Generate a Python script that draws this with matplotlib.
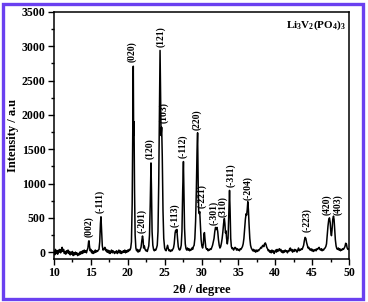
import matplotlib
matplotlib.use("Agg")
import matplotlib.pyplot as plt
from matplotlib.patches import Rectangle

# ---- data ----
two_theta = [
    10.0, 10.1, 10.2, 10.3, 10.4, 10.5, 10.6, 10.7, 10.8, 10.9, 11.0, 11.1, 11.2, 11.3, 11.4,
    11.5, 11.6, 11.7, 11.8, 11.9, 12.0, 12.1, 12.2, 12.3, 12.4, 12.5, 12.6, 12.7, 12.8, 12.9,
    13.0, 13.1, 13.2, 13.3, 13.4, 13.5, 13.6, 13.7, 13.8, 13.9, 14.0, 14.1, 14.2, 14.3, 14.4,
    14.5, 14.6, 14.7, 14.75, 14.8, 14.9, 15.0, 15.1, 15.2, 15.3, 15.4, 15.5, 15.6, 15.7, 15.8,
    15.9, 16.0, 16.1, 16.2, 16.3, 16.37, 16.45, 16.55, 16.65, 16.8, 16.9, 17.0, 17.1, 17.2, 17.3,
    17.4, 17.5, 17.6, 17.7, 17.8, 17.9, 18.0, 18.1, 18.2, 18.3, 18.4, 18.5, 18.6, 18.7, 18.8,
    18.9, 19.0, 19.1, 19.2, 19.3, 19.4, 19.5, 19.6, 19.7, 19.8, 19.9, 20.0, 20.1, 20.2, 20.3,
    20.4, 20.5, 20.6, 20.68, 20.75, 20.8, 20.85, 20.92, 21.0, 21.1, 21.2, 21.3, 21.4, 21.5, 21.6,
    21.7, 21.8, 21.9, 22.0, 22.08, 22.15, 22.25, 22.35, 22.45, 22.55, 22.65, 22.75, 22.85, 22.95,
    23.05, 23.15, 23.22, 23.3, 23.4, 23.5, 23.6, 23.7, 23.8, 23.9, 24.0, 24.1, 24.2, 24.3, 24.38,
    24.45, 24.52, 24.6, 24.68, 24.78, 24.88, 25.0, 25.1, 25.2, 25.3, 25.4, 25.5, 25.6, 25.7, 25.8,
    25.9, 26.0, 26.1, 26.2, 26.3, 26.42, 26.5, 26.58, 26.66, 26.75, 26.85, 26.95, 27.05, 27.15,
    27.25, 27.35, 27.45, 27.55, 27.62, 27.7, 27.8, 27.9, 28.0, 28.1, 28.2, 28.3, 28.4, 28.5, 28.6,
    28.7, 28.8, 28.9, 29.0, 29.1, 29.2, 29.3, 29.4, 29.47, 29.55, 29.62, 29.7, 29.76, 29.85, 29.95,
    30.05, 30.15, 30.25, 30.33, 30.4, 30.48, 30.58, 30.7, 30.8, 30.9, 31.0, 31.1, 31.2, 31.3, 31.4,
    31.5, 31.6, 31.7, 31.8, 31.9, 32.0, 32.1, 32.2, 32.3, 32.4, 32.5, 32.6, 32.7, 32.8, 32.9, 33.0,
    33.1, 33.17, 33.25, 33.32, 33.4, 33.5, 33.6, 33.7, 33.8, 33.88, 33.96, 34.05, 34.15, 34.25,
    34.35, 34.45, 34.55, 34.65, 34.75, 34.85, 34.95, 35.05, 35.15, 35.25, 35.35, 35.45, 35.55,
    35.65, 35.75, 35.85, 35.95, 36.05, 36.12, 36.2, 36.28, 36.36, 36.45, 36.55, 36.65, 36.75,
    36.85, 36.95, 37.05, 37.15, 37.25, 37.35, 37.45, 37.55, 37.65, 37.75, 37.85, 37.95, 38.05,
    38.15, 38.25, 38.35, 38.45, 38.55, 38.65, 38.75, 38.85, 38.95, 39.05, 39.15, 39.25, 39.35,
    39.45, 39.55, 39.65, 39.75, 39.85, 39.95, 40.05, 40.15, 40.25, 40.35, 40.45, 40.55, 40.65,
    40.75, 40.85, 40.95, 41.05, 41.15, 41.25, 41.35, 41.45, 41.55, 41.65, 41.75, 41.85, 41.95,
    42.05, 42.15, 42.25, 42.35, 42.45, 42.55, 42.65, 42.75, 42.85, 42.95, 43.05, 43.15, 43.25,
    43.35, 43.45, 43.55, 43.65, 43.75, 43.85, 43.95, 44.05, 44.15, 44.25, 44.35, 44.45, 44.55,
    44.65, 44.75, 44.85, 44.95, 45.05, 45.15, 45.25, 45.35, 45.45, 45.55, 45.65, 45.75, 45.85,
    45.95, 46.05, 46.15, 46.25, 46.35, 46.45, 46.55, 46.65, 46.75, 46.85, 46.95, 47.05, 47.15,
    47.25, 47.35, 47.45, 47.55, 47.62, 47.7, 47.8, 47.9, 47.98, 48.05, 48.15, 48.25, 48.35,
    48.45, 48.55, 48.65, 48.75, 48.85, 48.95, 49.05, 49.15, 49.25, 49.35, 49.45, 49.55, 49.65,
    49.75, 49.85, 49.95, 50.0,
]
intensity = [
    10, -40, 40, -20, 20, -30, 30, 0, 40, -10, 20, 70, 10, 40, -20,
    10, -30, 20, -10, 30, -20, 10, -40, 0, -30, 10, -50, -10, -40, 0,
    -30, -10, -50, -20, -40, 0, -30, 10, -20, 20, -10, 30, 0, 20, -10,
    30, 60, 160, 165, 100, 20, 40, -10, 20, -20, 10, -10, 30, 0, 20,
    10, 30, 40, 150, 420, 515, 330, 90, 30, 50, 70, 20, 40, 0, 30,
    -10, 20, -20, 10, 30, -10, 20, 0, -20, 10, -10, 20, -20, 0, 30,
    -10, 20, -20, 10, -10, 20, 0, 30, -10, 20, 0, 30, 10, 40, 30,
    60, 150, 700, 1800, 2710, 1700, 1900, 900, 250, 60, 20, 40, 0, 30, 10,
    40, 70, 160, 235, 180, 60, 90, 40, 20, 30, 10, 50, 90, 250,
    700, 1300, 900, 300, 100, 40, 20, 40, 30, 60, 100, 300, 1000, 2000, 2940,
    2300, 1700, 1820, 1400, 600, 200, 60, 30, 20, 60, 100, 50, 20, 30, 10,
    30, 20, 40, 60, 120, 280, 320, 290, 330, 200, 80, 40, 30, 50,
    100, 300, 900, 1320, 900, 350, 120, 50, 30, 60, 30, 50, 20, 40, 30,
    60, 40, 80, 100, 200, 450, 900, 1500, 1740, 1000, 600, 560, 590, 380, 180,
    90, 60, 120, 260, 285, 180, 70, 40, 50, 20, 40, 30, 50, 40, 70,
    100, 150, 200, 300, 360, 330, 360, 300, 180, 100, 60, 80, 130, 200, 300, 420,
    490, 420, 280, 310, 200, 120, 200, 550, 900, 600, 200, 80, 50, 60,
    30, 50, 70, 60, 30, 50, 30, 40, 20, 50, 40, 60, 80,
    120, 200, 350, 480, 560, 540, 620, 735, 620, 400, 200, 100, 60,
    40, 20, 40, 10, 30, 0, 30, 10, 30, 20, 40, 50, 70,
    60, 90, 100, 80, 120, 135, 110, 70, 50, 20, 30, 0, 20,
    -10, 30, 0, 20, -20, 10, 30, 0, 40, 10, 30, 50, 20,
    40, 0, 20, -10, 20, 0, 30, 10, 20, -10, 20, 10, 50,
    60, 20, 40, 0, 30, 10, 40, 20, 30, 0, 30, 60, 20,
    40, 30, 50, 40, 70, 100, 170, 215, 200, 140, 100, 60, 70,
    40, 30, 50, 20, 40, 10, 30, 20, 40, 20, 50, 40, 60,
    70, 40, 30, 50, 20, 40, 30, 50, 60, 80, 120, 250, 380,
    470, 500, 430, 280, 240, 320, 480, 525, 470, 350, 180, 90, 50,
    40, 60, 30, 50, 20, 40, 30, 50, 40, 60, 80, 130, 120,
    60, 40, 50, 40,
]
peak_labels = ["(002)", "(-111)", "(020)", "(-201)", "(120)", "(121)", "(103)", "(-113)",
               "(-112)", "(220)", "(-221)", "(-301)", "(310)", "(-311)", "(-204)",
               "(-223)", "(420)", "(403)"]
label_x = [14.67, 16.25, 20.6, 21.9, 23.0, 24.45, 24.95, 26.45, 27.5, 29.39, 30.07,
           31.65, 32.85, 33.95, 36.27, 44.3, 47.05, 48.55]
label_y = [220, 570, 2770, 280, 1360, 2990, 1880, 365, 1370, 1780, 640, 395, 510, 950,
           760, 290, 540, 540]
x_ticks = [10, 15, 20, 25, 30, 35, 40, 45, 50]
y_ticks = [0, 500, 1000, 1500, 2000, 2500, 3000, 3500]

plt.rcParams['font.family'] = ['Liberation Serif', 'DejaVu Serif']
plt.rcParams['font.weight'] = 'bold'
plt.rcParams['mathtext.default'] = 'regular'

fig = plt.figure(figsize=(3.68, 3.02), dpi=100)
ax = fig.add_axes([54 / 368, 1 - 259 / 302, 295 / 368, 247 / 302])

ax.plot(two_theta, intensity, color='black', lw=1.1)
ax.set_xlim(10, 50)
ax.set_ylim(-100, 3500)
ax.set_xticks(x_ticks)
ax.set_yticks(y_ticks)
ax.set_xticks([t + 2.5 for t in x_ticks[:-1]], minor=True)
ax.set_yticks([t + 250 for t in y_ticks[:-1]], minor=True)
ax.tick_params(which='major', direction='out', length=4, width=1, labelsize=8.5, pad=2)
ax.tick_params(which='minor', direction='out', length=2, width=1)
for lab in ax.get_xticklabels() + ax.get_yticklabels():
    lab.set_fontweight('bold')
for s in ax.spines.values():
    s.set_linewidth(1.1)

ax.set_xlabel('2θ / degree', fontsize=9, fontweight='bold', labelpad=3)
ax.set_ylabel('Intensity / a.u', fontsize=9, fontweight='bold', labelpad=2)

for t, xx, yy in zip(peak_labels, label_x, label_y):
    ax.text(xx, yy, t, rotation=90, ha='center', va='bottom', fontsize=7,
            fontweight='bold')

ax.text(0.99, 0.945, r'Li$_3$V$_2$(PO$_4$)$_3$', transform=ax.transAxes,
        ha='right', va='center', fontsize=8, fontweight='bold')

fig.patches.append(Rectangle((2.5 / 368, 3.5 / 302), 360 / 368, 295 / 302,
                             transform=fig.transFigure, fill=False,
                             edgecolor='#6a40f0', lw=2.4))

fig.savefig('out.png', dpi=100)
